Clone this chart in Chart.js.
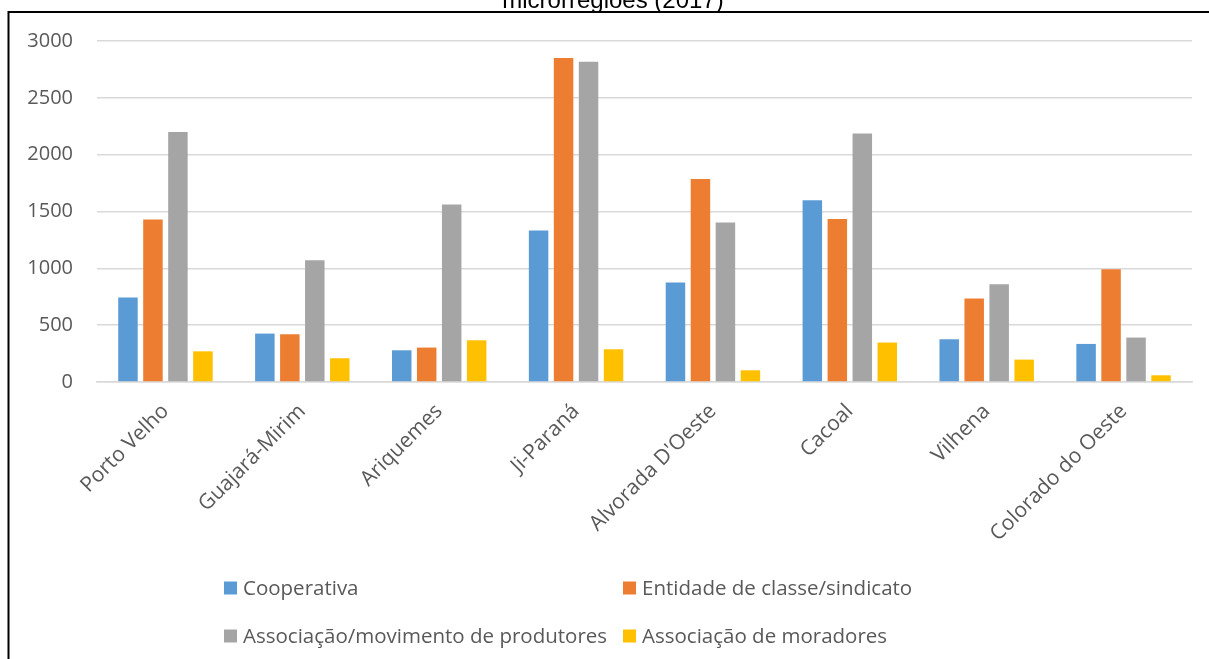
<!DOCTYPE html>
<html lang="pt">
<head>
<meta charset="utf-8">
<title>Organizações por microrregião (2017)</title>
<script src="https://cdn.jsdelivr.net/npm/chart.js@4.4.1/dist/chart.umd.min.js"></script>
<style>
  html, body { margin: 0; padding: 0; background: #ffffff; }
  #wrap { position: relative; width: 1209px; height: 659px; }
  canvas { display: block; }
</style>
</head>
<body>
<div id="wrap"><canvas id="chart" width="1209" height="659"></canvas></div>
<script>
// Microrregiões de Rondônia
const categories = ['Porto Velho', 'Guajará-Mirim', 'Ariquemes', 'Ji-Paraná',
  "Alvorada D'Oeste", 'Cacoal', 'Vilhena', 'Colorado do Oeste'];

// Número de estabelecimentos por tipo de organização
const cooperativa = [743, 426, 279, 1333, 875, 1600, 376, 335];
const entidadeClasse = [1430, 420, 303, 2850, 1785, 1433, 734, 992];
const associacaoProdutores = [2199, 1072, 1562, 2818, 1403, 2187, 860, 391];
const associacaoMoradores = [270, 209, 367, 288, 103, 347, 197, 59];

const seriesNames = ['Cooperativa', 'Entidade de classe/sindicato',
  'Associação/movimento de produtores', 'Associação de moradores'];
const seriesColors = ['#5B9BD5', '#ED7D31', '#A5A5A5', '#FFC000'];

const yTicks = [0, 500, 1000, 1500, 2000, 2500, 3000];
const titleText = 'microrregiões (2017)';

const FONT = "'Open Sans', 'Noto Sans', sans-serif";
const TEXT_GREY = '#595959';

// Frame and title sit outside the plot; drawn directly on the canvas
const framePlugin = {
  id: 'frame',
  beforeDraw(chart) {
    const ctx = chart.ctx;
    ctx.save();
    ctx.strokeStyle = '#000000';
    ctx.lineWidth = 2;
    ctx.strokeRect(8.5, 12, chart.width + 100, chart.height + 100);
    ctx.fillStyle = '#000000';
    ctx.font = "24px 'Liberation Sans', Arial, sans-serif";
    ctx.textAlign = 'center';
    ctx.textBaseline = 'alphabetic';
    ctx.fillText(titleText, 613, 7.5);
    ctx.restore();
  }
};

// Two-column legend laid out as a grid under the axis labels
const gridLegendPlugin = {
  id: 'gridLegend',
  afterDraw(chart, args, opts) {
    const ctx = chart.ctx;
    ctx.save();
    ctx.font = '20.5px ' + FONT;
    ctx.textBaseline = 'middle';
    ctx.textAlign = 'left';
    chart.data.datasets.forEach((ds, i) => {
      const col = i % 2, row = Math.floor(i / 2);
      const x = opts.left + col * opts.colWidth;
      const y = opts.top + row * opts.rowHeight;
      ctx.fillStyle = ds.backgroundColor;
      ctx.fillRect(x, y - 6.5, 13, 13);
      ctx.fillStyle = TEXT_GREY;
      ctx.fillText(ds.label, x + 19, y + 1);
    });
    ctx.restore();
  }
};

const seriesValues = [cooperativa, entidadeClasse, associacaoProdutores, associacaoMoradores];

new Chart(document.getElementById('chart'), {
  type: 'bar',
  data: {
    labels: categories,
    datasets: seriesValues.map((vals, i) => ({
      label: seriesNames[i],
      data: vals,
      backgroundColor: seriesColors[i],
      borderWidth: 0,
      categoryPercentage: 0.73,
      barPercentage: 0.78
    }))
  },
  options: {
    responsive: false,
    animation: false,
    layout: { padding: { left: 10, right: 17, top: 41, bottom: 100 } },
    plugins: {
      legend: { display: false },
      tooltip: { enabled: false },
      title: { display: false },
      gridLegend: { left: 224, colWidth: 399, top: 588, rowHeight: 48 }
    },
    scales: {
      x: {
        grid: { display: false },
        border: { display: true, color: '#D9D9D9', width: 1.5 },
        ticks: {
          color: TEXT_GREY,
          font: { family: FONT, size: 21 },
          minRotation: 45,
          maxRotation: 45,
          padding: 9,
          autoSkip: false
        },
        afterFit(scale) { scale.height = 177; }
      },
      y: {
        min: 0,
        max: 3000,
        afterBuildTicks(scale) { scale.ticks = yTicks.map(v => ({ value: v })); },
        grid: { color: '#D9D9D9', lineWidth: 1.5, drawTicks: false },
        border: { display: false },
        ticks: {
          color: TEXT_GREY,
          font: { family: FONT, size: 20 },
          padding: 24,
          callback: (value) => String(value)
        },
        afterFit(scale) { scale.width = 87; }
      }
    }
  },
  plugins: [framePlugin, gridLegendPlugin]
});
</script>
</body>
</html>
